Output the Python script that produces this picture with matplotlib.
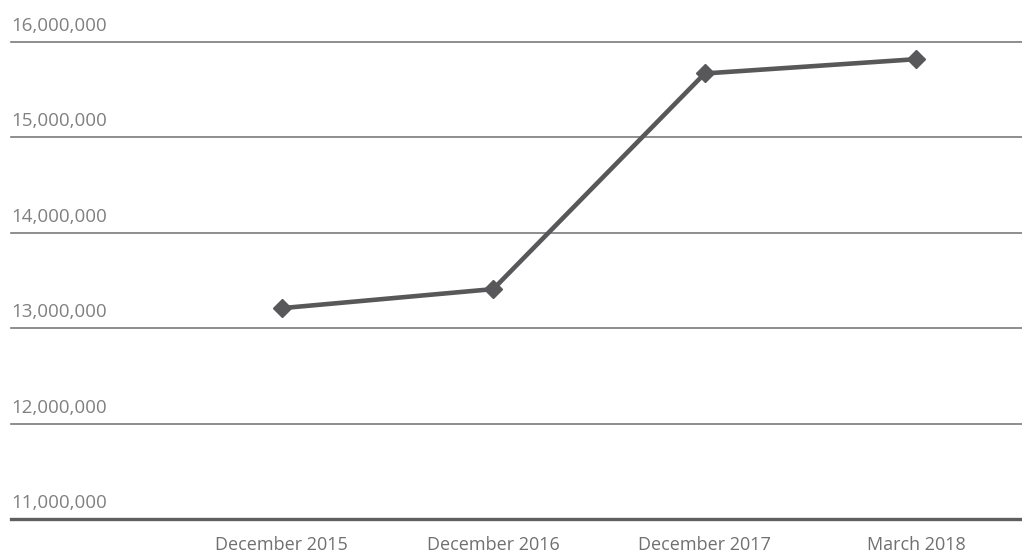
import matplotlib
matplotlib.use("Agg")
import matplotlib.pyplot as plt
import matplotlib.transforms as mtransforms

# data
periods = ["December 2015", "December 2016", "December 2017", "March 2018"]
values = [13210000, 13410000, 15670000, 15820000]
grid_values = [11000000, 12000000, 13000000, 14000000, 15000000, 16000000]

fig = plt.figure(figsize=(10.22, 5.53), dpi=100)
ax = fig.add_axes([11/1022, 34/553, 1011/1022, (519-42)/553])
ax.set_xlim(-1.28, 3.5)
ax.set_ylim(11000000, 16000000)

x = range(len(periods))
ax.plot(x, values, color="#58585a", lw=3.3, marker="D", markersize=9, clip_on=False, zorder=3)

for v in grid_values:
    if v == grid_values[0]:
        ax.axhline(v, color="#5f5f5f", lw=2.4, clip_on=False, zorder=2)
    else:
        ax.axhline(v, color="#7a7a7a", lw=1.2, clip_on=False, zorder=2)
    trans = mtransforms.offset_copy(ax.get_yaxis_transform(), fig=fig, x=0.5, y=5, units="points")
    ax.text(0, v, f"{v:,}", transform=trans, ha="left", va="bottom",
            fontsize=13.5, color="#808080", family="Open Sans")

ax.set_xticks(list(x))
ax.set_xticklabels(periods, fontsize=13, color="#707070", family="Open Sans")
ax.tick_params(axis="x", length=0, pad=12)
ax.set_yticks([])
for s in ax.spines.values():
    s.set_visible(False)

fig.savefig("out.png", dpi=100)
